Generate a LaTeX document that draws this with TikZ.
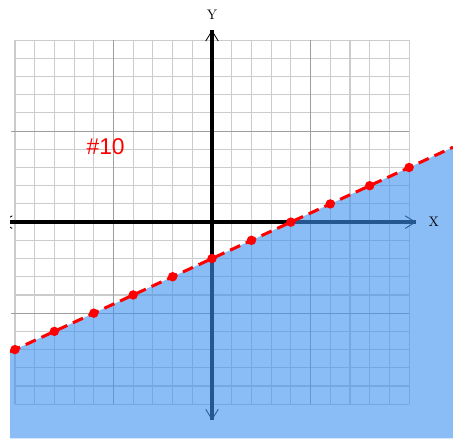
\documentclass[tikz,border=0pt]{standalone}
\usepackage{fontspec}
\newfontfamily\labelfont{Liberation Sans}
\usetikzlibrary{arrows.meta}

\begin{document}
\begin{tikzpicture}[x=0.5cm,y=0.462cm,
 grd/.style={line width=0.8pt,black!20},
 mgrd/.style={line width=0.8pt,black!38},
 axis/.style={line width=2.8pt},
 tip/.style={line width=0.6pt,{Straight Barb[length=2.6mm,width=3.2mm]}-{Straight Barb[length=2.6mm,width=3.2mm]}},
 region/.style={fill={rgb,255:red,60;green,145;blue,240},fill opacity=0.6},
 bound/.style={red,line width=2.2pt,dash pattern=on 8pt off 4.5pt},
 dot/.style={circle,fill=red,inner sep=0pt,minimum size=2.4mm}]
\useasboundingbox (-10.76,-11.87) rectangle (12.23,12.2);
\coordinate (xl) at (-10.7,0);
\coordinate (xr) at (10.36,0);
\coordinate (yt) at (0,10.55);
\coordinate (yb) at (0,-10.88);
\coordinate (la) at (-10.25,-7.125);
\coordinate (lb) at (12.23,4.115);
\coordinate (br) at (12.23,-11.87);
\coordinate (bl) at (-10.25,-11.87);
\begin{scope}
\clip (-10.25,-11.87) rectangle (12.23,12.2);
\foreach \k in {-10,...,10} {
  \draw[grd] (\k,-10) -- (\k,10);
  \draw[grd] (-10,\k) -- (10,\k);
}
\draw[mgrd] (-5,-10) -- (-5,10);
\draw[mgrd] (5,-10) -- (5,10);
\draw[mgrd] (-10.2,5) -- (10,5);
\draw[mgrd] (-10.2,-5) -- (10,-5);
\draw[axis] (xl) -- (xr);
\draw[axis] (yb) -- (yt);
\draw[tip] (xl) -- (xr);
\draw[tip] (yb) -- (yt);
\fill[region] (la) -- (lb) -- (br) -- (bl) -- cycle;
\draw[bound] (la) -- (lb);
\foreach \i in {-10,-8,...,10}
  \node[dot] (d\i) at (\i,\i/2-2) {};
\end{scope}
\node (ylab) at (0,11.4) {Y};
\node (xlab) at (11.25,0) {X};
\node[red] (num) at (-5.4,4.12) {\labelfont\fontsize{16.5}{18}\selectfont\#10};
\end{tikzpicture}
\end{document}
